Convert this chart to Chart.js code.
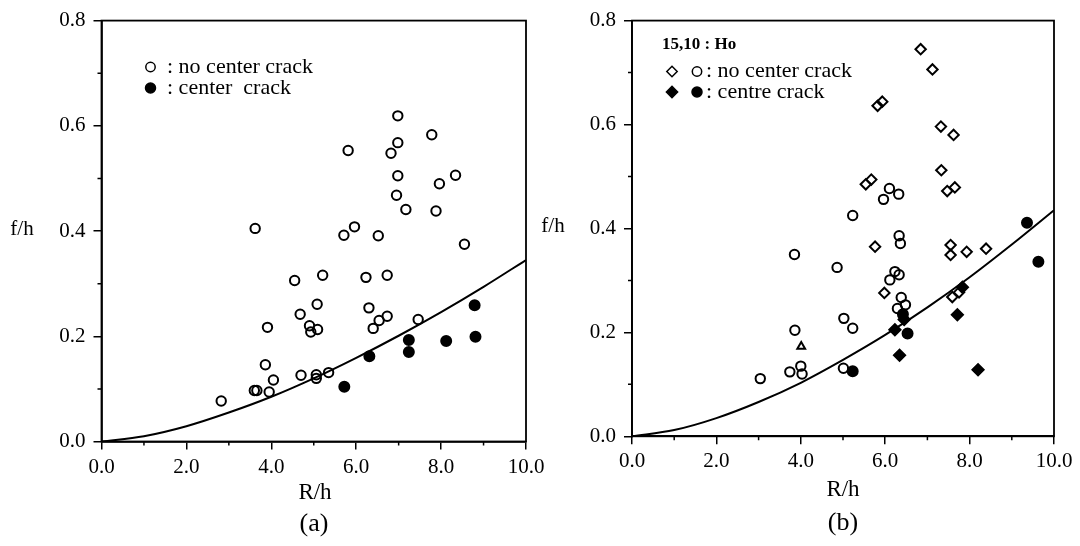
<!DOCTYPE html>
<html>
<head>
<meta charset="utf-8">
<script src="https://cdn.jsdelivr.net/npm/chart.js@4/dist/chart.umd.min.js"></script>
<style>
    body { margin: 0; background: #fff; width: 1080px; height: 546px; overflow: hidden; position: relative; }
    canvas { position: absolute; top: 0; }
    #chartA { left: 0; }
    #chartB { left: 540px; }
</style>
</head>
<body>
<canvas id="chartA" width="580" height="546"></canvas>
<canvas id="chartB" width="540" height="546"></canvas>
<script>
// 数据 (a)
const aOpenR = [6.98, 7.78, 5.81, 6.98, 6.82, 6.98, 8.34, 7.96, 6.95, 7.17, 7.88, 3.62, 5.96, 5.71, 6.52, 8.55,
                4.55, 5.21, 5.08, 4.68, 3.91, 4.90, 4.93, 5.09, 3.86, 4.05, 3.60, 3.66, 3.95, 2.82, 4.70, 5.06, 5.06, 5.35,
                6.23, 6.73, 6.30, 6.54, 6.73, 6.40, 7.46];
const aOpenF = [0.619, 0.583, 0.553, 0.568, 0.548, 0.505, 0.506, 0.490, 0.468, 0.441, 0.438, 0.405, 0.408, 0.392, 0.391, 0.375,
                0.306, 0.316, 0.261, 0.242, 0.217, 0.220, 0.208, 0.213, 0.146, 0.117, 0.097, 0.097, 0.094, 0.077, 0.126, 0.127, 0.120, 0.131,
                0.312, 0.316, 0.254, 0.230, 0.238, 0.215, 0.232];
const aFilledR = [5.72, 6.31, 7.24, 7.24, 8.12, 8.79, 8.81];
const aFilledF = [0.104, 0.162, 0.193, 0.170, 0.191, 0.259, 0.199];

// 数据 (b)
const bOpenDiamondR = [6.84, 7.12, 5.82, 5.93, 7.32, 7.62, 5.54, 5.67, 7.33, 7.47, 7.65, 5.76, 5.98, 7.55, 7.55, 7.93, 8.39, 7.59, 7.75];
const bOpenDiamondF = [0.745, 0.706, 0.636, 0.644, 0.596, 0.580, 0.485, 0.494, 0.512, 0.472, 0.479, 0.365, 0.276, 0.368, 0.349, 0.355, 0.361, 0.268, 0.277];
const bOpenCircleR = [6.10, 6.32, 5.96, 5.23, 3.85, 4.86, 5.02, 5.23, 3.86, 4.00, 3.74, 4.03, 3.04, 5.01, 6.33, 6.36, 6.23, 6.33, 6.11, 6.38, 6.29, 6.48];
const bOpenCircleF = [0.477, 0.466, 0.456, 0.425, 0.350, 0.325, 0.227, 0.208, 0.204, 0.135, 0.124, 0.120, 0.111, 0.131, 0.386, 0.371, 0.317, 0.311, 0.301, 0.267, 0.246, 0.253];
const bTriangleR = [4.01];
const bTriangleF = [0.173];
const bFilledDiamondR = [6.23, 6.45, 6.34, 7.71, 8.20, 7.83];
const bFilledDiamondF = [0.205, 0.225, 0.156, 0.234, 0.128, 0.287];
const bFilledCircleR = [5.23, 6.42, 6.53, 9.36, 9.63];
const bFilledCircleF = [0.125, 0.235, 0.198, 0.411, 0.336];

// 曲线
const curveR = [0, 1, 2, 3, 4, 5, 6, 7, 8, 9, 10];
const aCurveF = [0, 0.010, 0.029, 0.055, 0.085, 0.120, 0.159, 0.201, 0.246, 0.294, 0.345];
const bCurveF = [0, 0.012, 0.035, 0.066, 0.103, 0.147, 0.195, 0.248, 0.306, 0.369, 0.435];

// 刻度
const majorR = [0, 2, 4, 6, 8, 10];
const minorR = [1, 3, 5, 7, 9];
const majorF = [0, 0.2, 0.4, 0.6, 0.8];
const minorF = [0.1, 0.3, 0.5, 0.7];

const SERIF = '"Liberation Serif", "Times New Roman", serif';

function toPoints(xs, ys) {
    return xs.map((x, i) => ({ x: x, y: ys[i] }));
}

function markers(xs, ys, style, filled, radius) {
    return {
        data: toPoints(xs, ys),
        pointStyle: style,
        pointRadius: radius,
        pointHoverRadius: radius,
        pointBorderWidth: 2,
        pointBorderColor: '#000',
        pointBackgroundColor: filled ? '#000' : 'rgba(0,0,0,0)',
        showLine: false
    };
}

function curve(ys) {
    return {
        data: toPoints(curveR, ys),
        showLine: true,
        borderColor: '#000',
        borderWidth: 2,
        pointRadius: 0,
        cubicInterpolationMode: 'monotone',
        fill: false
    };
}

// 边框、次刻度、标题和图例
const decor = {
    id: 'decor',
    afterDraw(chart, args, opts) {
        const ctx = chart.ctx;
        const a = chart.chartArea;
        const sx = chart.scales.x;
        const sy = chart.scales.y;
        ctx.save();
        ctx.strokeStyle = '#000';
        ctx.lineWidth = 1.8;
        ctx.strokeRect(a.left, a.top, a.right - a.left, a.bottom - a.top);

        // 次刻度
        ctx.lineWidth = 1.5;
        ctx.beginPath();
        minorR.forEach(v => {
            const px = sx.getPixelForValue(v);
            ctx.moveTo(px, a.bottom);
            ctx.lineTo(px, a.bottom + 4);
        });
        minorF.forEach(v => {
            const py = sy.getPixelForValue(v);
            ctx.moveTo(a.left, py);
            ctx.lineTo(a.left - 4, py);
        });
        ctx.stroke();

        ctx.fillStyle = '#000';
        ctx.textBaseline = 'middle';
        ctx.textAlign = 'center';
        ctx.font = '21px ' + SERIF;
        ctx.fillText('f/h', opts.fh[0], opts.fh[1]);
        ctx.font = '23px ' + SERIF;
        ctx.fillText('R/h', opts.rh[0], opts.rh[1]);
        ctx.font = '26px ' + SERIF;
        ctx.fillText(opts.caption, opts.cap[0], opts.cap[1]);

        ctx.textAlign = 'left';
        (opts.legend || []).forEach(item => {
            (item.marks || []).forEach(m => {
                ctx.fillStyle = m.filled ? '#000' : 'rgba(0,0,0,0)';
                ctx.strokeStyle = '#000';
                Chart.helpers.drawPoint(ctx, { pointStyle: m.style, radius: m.r, borderWidth: 2, rotation: 0 }, m.x, item.y);
            });
            ctx.fillStyle = '#000';
            ctx.font = item.font || ('22px ' + SERIF);
            ctx.fillText(item.text, item.x, item.y);
        });
        ctx.restore();
    }
};

function axes(yWidth, xHeight) {
    const tickFont = { family: SERIF, size: 21 };
    return {
        x: {
            type: 'linear', min: 0, max: 10,
            afterFit(s) { s.height = xHeight; },
            afterBuildTicks(s) { s.ticks = majorR.map(v => ({ value: v })); },
            ticks: {
                autoSkip: false, maxRotation: 0, padding: 5, color: '#000', font: tickFont,
                callback: v => v.toFixed(1)
            },
            grid: { drawOnChartArea: false, color: '#000', lineWidth: 1.5, tickLength: 8 },
            border: { color: '#000', width: 1.8 }
        },
        y: {
            type: 'linear', min: 0, max: 0.8,
            afterFit(s) { s.width = yWidth; },
            afterBuildTicks(s) { s.ticks = majorF.map(v => ({ value: v })); },
            ticks: {
                autoSkip: false, padding: 8, color: '#000', font: tickFont,
                callback: v => v.toFixed(1)
            },
            grid: { drawOnChartArea: false, color: '#000', lineWidth: 1.5, tickLength: 8 },
            border: { color: '#000', width: 1.8 }
        }
    };
}

function baseOptions(padding, yWidth, xHeight, decorOpts) {
    return {
        responsive: false,
        animation: false,
        devicePixelRatio: 1,
        layout: { padding: padding },
        scales: axes(yWidth, xHeight),
        plugins: {
            legend: { display: false },
            tooltip: { enabled: false },
            decor: decorOpts
        }
    };
}

document.addEventListener('DOMContentLoaded', function() {
    // (a)
    new Chart(document.getElementById('chartA').getContext('2d'), {
        type: 'scatter',
        data: {
            datasets: [
                curve(aCurveF),
                markers(aOpenR, aOpenF, 'circle', false, 4.7),
                markers(aFilledR, aFilledF, 'circle', true, 5)
            ]
        },
        options: baseOptions({ left: 0, top: 18.5, right: 54, bottom: 0 }, 101.5, 104.5, {
            fh: [22, 229], rh: [315, 493], cap: [314, 524], caption: '(a)',
            legend: [
                { y: 67, x: 167, text: ': no center crack', marks: [{ x: 150.5, style: 'circle', filled: false, r: 4.7 }] },
                { y: 88, x: 167, text: ': center  crack', marks: [{ x: 150.5, style: 'circle', filled: true, r: 5 }] }
            ]
        }),
        plugins: [decor]
    });

    // (b)
    new Chart(document.getElementById('chartB').getContext('2d'), {
        type: 'scatter',
        data: {
            datasets: [
                curve(bCurveF),
                markers(bOpenDiamondR, bOpenDiamondF, 'rectRot', false, 5.2),
                markers(bOpenCircleR, bOpenCircleF, 'circle', false, 4.7),
                markers(bTriangleR, bTriangleF, 'triangle', false, 4.5),
                markers(bFilledDiamondR, bFilledDiamondF, 'rectRot', true, 5.6),
                markers(bFilledCircleR, bFilledCircleF, 'circle', true, 5)
            ]
        },
        options: baseOptions({ left: 0, top: 15, right: 26, bottom: 0 }, 92, 109.7, {
            fh: [13, 226], rh: [303, 490], cap: [303, 523], caption: '(b)',
            legend: [
                { y: 45, x: 122, text: '15,10 : Ho', font: 'bold 17px ' + SERIF, marks: [] },
                { y: 71.5, x: 166, text: ': no center crack', marks: [
                    { x: 132, style: 'rectRot', filled: false, r: 5.2 },
                    { x: 157, style: 'circle', filled: false, r: 4.7 }
                ] },
                { y: 92, x: 166, text: ': centre crack', marks: [
                    { x: 132, style: 'rectRot', filled: true, r: 5.6 },
                    { x: 157, style: 'circle', filled: true, r: 5 }
                ] }
            ]
        }),
        plugins: [decor]
    });
});
</script>
</body>
</html>
